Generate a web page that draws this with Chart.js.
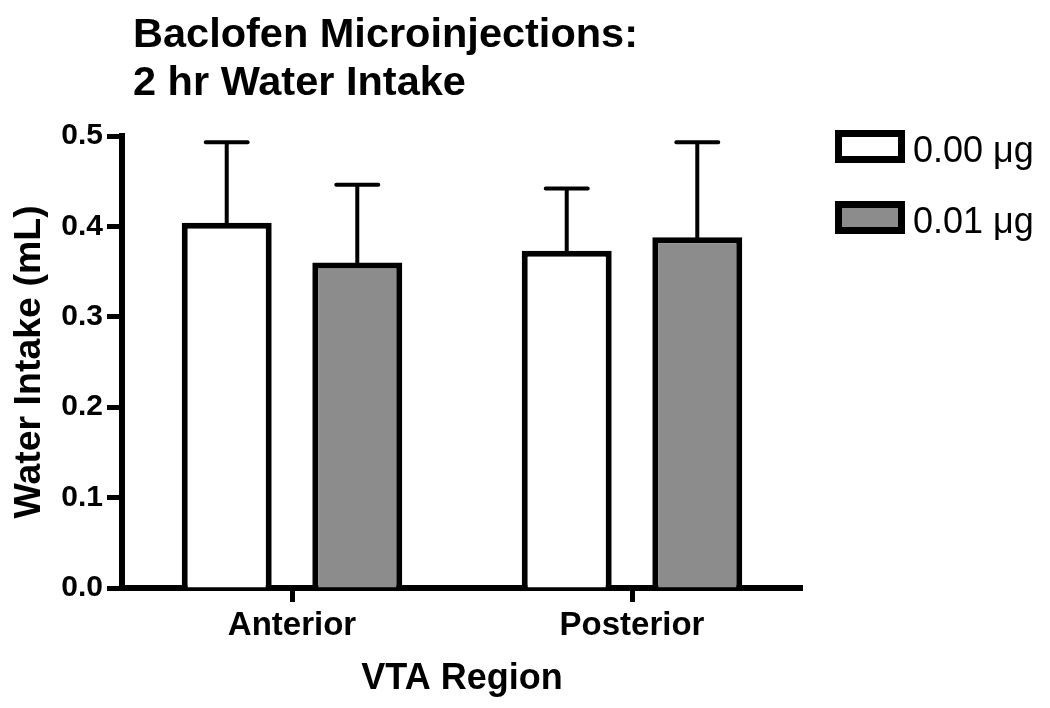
<!DOCTYPE html>
<html><head><meta charset="utf-8">
<script src="https://cdn.jsdelivr.net/npm/chart.js@4/dist/chart.umd.min.js"></script>
<style>html,body{margin:0;padding:0;background:#fff;overflow:hidden}</style>
</head><body>
<canvas id="c" width="1050" height="708"></canvas>
<script>
const titleLines = ['Baclofen Microinjections:', '2 hr Water Intake'];
const categories = ['Anterior', 'Posterior'];
const seriesNames = ['0.00 \u03bcg', '0.01 \u03bcg'];
const dose000 = [0.404, 0.373];
const dose001 = [0.360, 0.388];
const err000 = [0.089, 0.069];
const err001 = [0.086, 0.105];
const yTickLabels = ['0.0', '0.1', '0.2', '0.3', '0.4', '0.5'];
const xTitle = 'VTA Region';
const yTitle = 'Water Intake (mL)';

const FONT = '"Liberation Sans", Arial, Helvetica, sans-serif';

const errorBars = {
  id: 'errorBars',
  afterDatasetsDraw(chart) {
    const ctx = chart.ctx, ys = chart.scales.y;
    chart.data.datasets.forEach((ds, i) => {
      const meta = chart.getDatasetMeta(i);
      meta.data.forEach((bar, j) => {
        const yt = ys.getPixelForValue(ds.data[j] + ds.errors[j]);
        ctx.save();
        ctx.strokeStyle = '#000'; ctx.lineWidth = 4; ctx.lineCap = 'round';
        ctx.beginPath();
        ctx.moveTo(bar.x, bar.y); ctx.lineTo(bar.x, yt);
        ctx.moveTo(bar.x - 21, yt); ctx.lineTo(bar.x + 21, yt);
        ctx.stroke();
        ctx.restore();
      });
    });
  }
};

const titlePlugin = {
  id: 'titleText',
  afterDraw(chart) {
    const ctx = chart.ctx;
    ctx.save();
    ctx.font = 'bold 41.5px ' + FONT;
    ctx.fillStyle = '#000'; ctx.textAlign = 'left'; ctx.textBaseline = 'alphabetic';
    titleLines.forEach((t, i) => ctx.fillText(t, 133, 47 + 48 * i));
    ctx.restore();
  }
};

const legendPlugin = {
  id: 'customLegend',
  afterDraw(chart) {
    const ctx = chart.ctx;
    ctx.save();
    chart.data.datasets.forEach((ds, i) => {
      const top = 130 + i * 71;
      ctx.fillStyle = ds.backgroundColor;
      ctx.fillRect(835, top, 70, 33);
      ctx.lineWidth = 7; ctx.strokeStyle = '#000';
      ctx.strokeRect(838.5, top + 3.5, 63, 26);
      ctx.fillStyle = '#000';
      ctx.font = '36px ' + FONT;
      ctx.textAlign = 'left'; ctx.textBaseline = 'alphabetic';
      ctx.fillText(ds.label, 913, top + 32);
    });
    ctx.restore();
  }
};

new Chart(document.getElementById('c'), {
  type: 'bar',
  data: {
    labels: categories,
    datasets: [
      { label: seriesNames[0], data: dose000, errors: err000, backgroundColor: '#ffffff', borderColor: '#000', borderWidth: 6 },
      { label: seriesNames[1], data: dose001, errors: err001, backgroundColor: '#8c8c8c', borderColor: '#000', borderWidth: 6 }
    ]
  },
  options: {
    responsive: false,
    animation: false,
    categoryPercentage: 0.768,
    barPercentage: 0.689,
    layout: { padding: { top: 136, right: 248, bottom: 0, left: 0 } },
    plugins: { legend: { display: false }, tooltip: { enabled: false }, title: { display: false } },
    scales: {
      x: {
        type: 'category', offset: true,
        grid: { display: true, offset: false, drawOnChartArea: false, drawTicks: true, tickLength: 14, tickWidth: 5, tickColor: '#000' },
        border: { display: true, width: 6, color: '#000' },
        ticks: { color: '#000', font: { family: FONT, size: 33, weight: 'bold' }, padding: 4, maxRotation: 0 },
        title: { display: true, text: xTitle, color: '#000', font: { family: FONT, size: 36, weight: 'bold' }, padding: { top: 0, bottom: 7 } },
        afterFit(s) { s.height = 120; }
      },
      y: {
        min: 0, max: 0.5,
        ticks: { stepSize: 0.1, color: '#000', font: { family: FONT, size: 30, weight: 'bold' }, padding: 4,
                 callback: (v) => yTickLabels[Math.round(v * 10)] },
        grid: { drawOnChartArea: false, drawTicks: true, tickLength: 15, tickWidth: 5, tickColor: '#000' },
        border: { display: true, width: 6, color: '#000' },
        title: { display: true, text: yTitle, color: '#000', font: { family: FONT, size: 37.5, weight: 'bold' }, padding: { top: 7, bottom: 0 } },
        afterFit(s) { s.width = 122; }
      }
    }
  },
  plugins: [errorBars, titlePlugin, legendPlugin]
});
</script>
</body></html>
